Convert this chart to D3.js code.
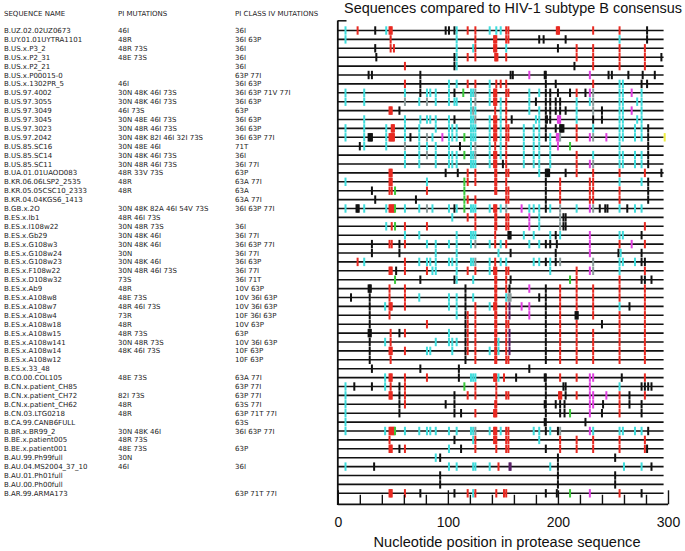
<!DOCTYPE html>
<html><head><meta charset="utf-8">
<script src="https://cdn.jsdelivr.net/npm/d3@7"></script>
<style>
html,body{margin:0;padding:0;background:#fff;}
svg{display:block;}
</style></head>
<body>
<script>
const names = ["B.UZ.02.02UZ0673","B.UY.01.01UYTRA1101","B.US.x.P3_2","B.US.x.P2_31","B.US.x.P2_21","B.US.x.P00015-0","B.US.x.1302PR_5","B.US.97.4002","B.US.97.3055","B.US.97.3049","B.US.97.3045","B.US.97.3023","B.US.97.2042","B.US.85.SC16","B.US.85.SC14","B.US.85.SC11","B.UA.01.01UAOD083","B.KR.06.06LSP2_2535","B.KR.05.05CSC10_2333","B.KR.04.04KGS6_1413","B.GB.x.2O","B.ES.x.Ib1","B.ES.x.I108w22","B.ES.x.Gb29","B.ES.x.G108w3","B.ES.x.G108w24","B.ES.x.G108w23","B.ES.x.F108w22","B.ES.x.D108w32","B.ES.x.Ab9","B.ES.x.A108w8","B.ES.x.A108w7","B.ES.x.A108w4","B.ES.x.A108w18","B.ES.x.A108w15","B.ES.x.A108w141","B.ES.x.A108w14","B.ES.x.A108w12","B.ES.x.33_48","B.CO.00.COL105","B.CN.x.patient_CH85","B.CN.x.patient_CH72","B.CN.x.patient_CH62","B.CN.03.LTG0218","B.CA.99.CANB6FULL","B.BR.x.BR99_2","B.BE.x.patient005","B.BE.x.patient001","B.AU.99.Ph99full","B.AU.04.MS2004_37_10","B.AU.01.Ph01full","B.AU.00.Ph00full","B.AR.99.ARMA173"];

const piMutations = ["46I","48R","48R 73S","48E 73S","","","46I","30N 48K 46I 73S","30N 48K 46I 73S","46I 73S","30N 48E 46I 73S","30N 48R 46I 73S","30N 48K 82I 46I 32I 73S","30N 48E 46I","30N 48K 46I 73S","30N 48R 46I 73S","48R 33V 73S","48R","48R","","30N 48K 82A 46I 54V 73S","48R 46I 73S","30N 48R 73S","30N 48K 46I","30N 48K 46I","30N","30N 48K 46I","30N 48R 46I 73S","73S","48R","48E 73S","48R 46I 73S","73R","48R","48R 73S","30N 48R 73S","48K 46I 73S","","","48E 73S","","82I 73S","48R","48R","","30N 48K 46I","48R 73S","48E 73S","30N","46I","","",""];

const classIVMutations = ["36I","36I 63P","36I","36I","36I","63P 77I","36I 63P","36I 63P 71V 77I","36I 63P","63P","36I 63P","36I 63P","36I 63P 77I","71T","36I","36I 77I","63P","63A 77I","63A","63A 77I","36I 63P 77I","","36I","36I 77I","36I 63P 77I","36I 77I","36I 63P","36I 77I","36I 71T","10V 63P","10V 36I 63P","10V 36I 63P","10F 36I 63P","10V 63P","63P","10V 36I 63P","10F 63P","10F 63P","","63A 77I","63P 77I","63P 77I","63S 77I","63P 71T 77I","63S","36I 63P 77I","","63P","","36I","","","63P 71T 77I"];

// nucleotide positions of differences from consensus, prefixed by colour code
// c=cyan r=red k=black m=magenta g=green s=grey p=purple y=yellow ; a-b = adjacent run
const rowMarks = [
"c7 r18 k34 c44 r47-49 k98 k101 k106 c108 r118 r125 c138 c144 c148 r153 r155 r199-201 r232 r256 k281",
"c7 r48 c108 r125 r142-144 r153 r155 k183 k187 k207 c256 k281",
"k34 r48 r51 c108 c123 r125 r142-144 c153 k200 r217 r232 r256 r279",
"k35 k106 c108 r118 r125 r143-145 r153 r217 r232 r256 r279 k294",
"r61 k106 c108 k215 r232 r256 r279",
"k28 k31 k75 k157 k159 m174 k188-189 m229 k246 k249 k264 k277 k288",
"r61 k75 c101 c108 r118 r125 c138 r144 r148 r153 k189 k198 r232 c256 c259 k276 k281",
"c7 c24 c61 k75 c81 c84 c89 c101 k106 g114 c121 c123 s125 c138 r142-144 r153 r155 c174 c183 k189 k193 k200 k211 r217 k225 m229 s232 c256 c259 m267 c276",
"c7 c24 s61 c74 s81 c89 c101 c106 c108 c121 s125 c138 r142-144 c148 r153 c174 k180 k189 k193 k198 k202 c217 c229 s232 c256 c259 c272 c276",
"r47-49 k56 c121 s123 c125 r143 c148 r153 c174 c183 k189 k193 k198 k202 k207 c217 s232 k240 c256 c259 m267 c276",
"c24 c61 c75 c81 c84 c89 c101 k106 c121 c123 s125 c138 r142-144 c148 r153 k158 c180 c183 k189 k190 k193 m200-202 c217 k232 k240 c256 c259 c272 c276",
"c7 c24 c44 r49-51 c61 c74 c89 c101 c104 c108 c121 c123 c125 c138 r142-144 c148 r153 r155 c169 c178 c183 k189 k198 k202-205 r217 c232 c256 c259 c270 c276 k282",
"c7 c24 k28-31 c44 r47-51 c61 k66 c74 s81 c86 m95 c101 c104 c108 g115 c121 c123 c125 c138 r142-144 c148 r153 r155 c169 c178 c183 k189 c193 m199-201 s202 r217 m229 s232 m244 c256 c259 c270 c276 k282 y297",
"k20 c24 c44 s61 c74 c81 c89 c101 k111 c121 s125 c138 r143 c148 r153 c169 c178 c183 c193 m200 g211 c256 k282",
"c61 c74 s81 c89 c101 c104 c108 g115 c121 c123 s125 c138 r142-144 c148 r153 c169 c178 c183 c193 r217 c232 c256 c259 c270 c276 k282",
"c61 c74 c89 c101 c104 c108 c121 c123 c125 c138 r142-144 k150 r153 c169 c178 c183 c193 r217 m229 s232 c256 c259 c270 c276 k282",
"r47-49 k98 k109 r118 r125 r143 r144 r153 r155 c183 k189-192 k207 r217 r232 r256 r279 k294",
"c7 r47-49 c81 g115 r118 r125 r143 r144 r153 k189 r202 r229 r232 c256 c276 k282",
"k31 r47 r49 g52 r81 g115 r143 r144 r153 r155 k189 r202 r229 r232 r256 k282",
"k34 k71 g115 r118 r125 r153 r155 k189 r202 r229 r232 r256 k282",
"c7 k17-19 c24 c44 r47-51 g52 c61 c74 s81 c86 c101 k106 c108 g115 c121 c123 c125 c138 r142-144 c148 s153 m167 c174 c178 c183 k189 c193 s202 c217 m229 s232 k238 k243 k245 c256 k263 c270 c276",
"c104 r118 r125 r143 r144 r153 r155 m174 c183 s202 k205 k207",
"c44 r49 g52 r61 r81 r125 r143 r144 r153 r155 m174 c183 s202 k205 k207 r279",
"c61 c74 c108 c121 c123 c125 r143 k155-157 c169 c178 c193 k198 c202 m229 c256 c259 k276",
"k31 r47 r49 k56 r61 c81 c89 c101 c108 c121 s125 c138 r143 c148 r153 c174 c183 k189 k193 k199 m229 r256 m267 r279",
"k31 k56 c89 c108 c146 k157 k198 m229 k255 c257 k276",
"r18 c24 r61 c74 c81 c84 c89 c101 c104 c108 c121 c123 s125 c138 r143 c148 c153 c178 c183 k189 c193 k198 s202 s232 c256 c259 c270 k276 k279",
"r47-49 k53 r61 r81 c86 c89 c108 r118 r125 c138 r142-144 r153 r155 c193 r217 m229 s232 c256 r279",
"g52 k75 k106 c108 c123 r143 r144 r153 k157 g211 r217 r256 k276 k279 k285",
"k28-30 r47 r61 k116 r143 r144 r153 k156 m174 k189 r202 r217 r232 r256 r279",
"k12 k29 r47 r61 c74 c101 c108 k116 c123 r143 r144 c153 s155-157 k183 k189 r202 r217 r232 r256 r279",
"k29 c43 r47-49 r61 c101 c108 k116 r125 c138 r142-144 r153 p156 m167 m174 k189 r202 r217 r232 c256 k265 r279",
"k29 r47 c108 k116 r118 r125 r143 r144 r153 p156 m174 k189 r202 k216-218 r232 r256 r279",
"k29 r81 k116 r118 r125 r143 r144 r153 r155 k189 r202 r217 k240 r256 r279",
"k28-30 r48 k56 r61 c101 k116 r118 r125 r143 r144 r153 p156 k189 r202 r217 r232 r256 r279",
"k29 c43 r48 c89 c101 c104 c108 k116 r118 r125 r143 r144 c146 r153 p156 k189 r202 r217 r232 r256 r279",
"k29 r47-49 r61 c81 c84 c104 k116 r118 r125 c138 r143 r144 c146 r153 p156 k189 r202 r217 r232 r256 r279",
"k29 r48 k116 r125 r143 r144 r153 r155 k189 r202 r217 r232 r256 r279",
"k31 k75 k110 k174",
"c43 r47-49 r61 r81 k110 c121 c123 c125 r142-144 c146 r151 k162 k188-189 r202 r217 m229 m232 k258 r279",
"c7 k15 k31 c43 r48 k56 r61 g115 r125 r144 k189 k205 k207 m229 c256 k276 k279 k282 k285",
"c7 r47-49 k56 r61 k106 r118 r125 r144 r153 r155 k189 r201-203 k207 r217 m229 m232 m244 r256 k265 r279",
"c7 k56 r61 k98 k106 r143 r144 k188-189 k198 k202 k206 m229 m232 k241 r256 k265 k276",
"c7 k56 k106 k112 r125 r142-144 k189 k202 k206 g211 m229 k240 r256 k276",
"c7 k188-189 k225",
"c7 c43 r47-51 g52 c61 c74 c81 c84 c89 c101 c108 c121 c123 s125 c138 r142-144 c148 r153 r155 c178 c183 k189 c193 k200 s202 m229 c232 c256 c259 c270 c276 k282",
"r47 k106 c123 r125 r142-144 r153 r155 c183 r202 r217 r232 r256 r279",
"r47-49 k56 r61 c101 k112 r125 r144 r153 r155 k189 r202 r217 r232 r256 r279 k281",
"c89 k93 k200 k252",
"c7 k33 c101 c108 c123 c125 c138 r146 p156-157 c193 k200 c260 c276 k285",
"k93 k200 k252",
"k93 k200 k252",
"r47-49 r61 k75 k106 r118 c123 r125 r144 r151 r153 k189 k199 g211 m229 r256 k276"
];

const xTickValues = [0,20,40,60,80,100,120,140,160,180,200,220,240,260,280,300];
const xTickLabels = [0,100,200,300];
const seqLength = 296;
const chartTitle = "Sequences compared to HIV-1 subtype B consensus";
const xTitle = "Nucleotide position in protease sequence";
const headers = ["SEQUENCE NAME","PI MUTATIONS","PI CLASS IV MUTATIONS"];

const colorMap = {c:"#3fdcdc", r:"#e82a22", k:"#111111", m:"#e040e0", g:"#3cc83c", s:"#8c9c9c", p:"#5a2068", y:"#f0f040"};

const W = 685, H = 551;
const svg = d3.select("body").append("svg").attr("width", W).attr("height", H);

const x = d3.scaleLinear().domain([0, 300]).range([337.8, 668]);
const y = d3.scalePoint().domain(names).range([30.5, 30.5 + 8.9 * 52]);

// left table
const textFont = "DejaVu Sans, Verdana, sans-serif";
const colX = [4, 118, 235];
svg.append("g").selectAll("text").data(headers).join("text")
  .attr("x", (d,i) => colX[i]).attr("y", 16)
  .attr("font-family", textFont).attr("font-size", 7).attr("fill", "#222")
  .text(d => d);

const tbl = svg.append("g").attr("font-family", textFont).attr("font-size", 7).attr("fill", "#222");
names.forEach((n, i) => {
  const yy = y(n) + 2.5;
  tbl.append("text").attr("x", colX[0]).attr("y", yy).text(n);
  tbl.append("text").attr("x", colX[1]).attr("y", yy).text(piMutations[i]);
  tbl.append("text").attr("x", colX[2]).attr("y", yy).text(classIVMutations[i]);
});

// title
svg.append("text").attr("x", 513).attr("y", 13).attr("text-anchor", "middle")
  .attr("font-family", "Liberation Sans, Arial, sans-serif").attr("font-size", 14.5)
  .attr("textLength", 338).attr("lengthAdjust", "spacingAndGlyphs")
  .attr("fill", "#111").text(chartTitle);

// row lines
svg.append("g").selectAll("line").data(names).join("line")
  .attr("x1", x(0)).attr("x2", x(seqLength))
  .attr("y1", d => y(d)).attr("y2", d => y(d))
  .attr("stroke", "#111").attr("stroke-width", 1.6);

// marks
const markData = [];
rowMarks.forEach((s, i) => {
  s.split(" ").filter(t => t.length).forEach(t => {
    const col = colorMap[t[0]];
    const rest = t.slice(1);
    let a, b;
    if (rest.includes("-")) { [a, b] = rest.split("-").map(Number); } else { a = b = +rest; }
    for (let p = a; p <= b; p++) markData.push({row: names[i], pos: p, color: col});
  });
});
svg.append("g").selectAll("rect").data(markData).join("rect")
  .attr("x", d => x(d.pos) - 1).attr("width", 2)
  .attr("y", d => y(d.row) - 4.2).attr("height", 8.4)
  .attr("fill", d => d.color);

// left spine
svg.append("line").attr("x1", x(0)).attr("x2", x(0)).attr("y1", 20.5).attr("y2", 505)
  .attr("stroke", "#111").attr("stroke-width", 1.8);
svg.append("line").attr("x1", x(0)).attr("x2", 346.5).attr("y1", 20.8).attr("y2", 20.8)
  .attr("stroke", "#111").attr("stroke-width", 1.5);

// bottom axis with inward ticks
const axisG = svg.append("g").attr("transform", "translate(0,504.3)");
const xAxis = d3.axisTop(x).tickValues(xTickValues).tickSize(9).tickFormat("");
axisG.call(xAxis);
axisG.select(".domain").attr("stroke", "#111").attr("stroke-width", 1.8).attr("d", `M${x(0)},0H${x(300)}`);
axisG.selectAll(".tick line").attr("stroke", "#111").attr("stroke-width", 1.4)
  .attr("y2", d => (d % 100 === 0 ? -14 : -9.5));

svg.append("g").selectAll("text").data(xTickLabels).join("text")
  .attr("x", d => x(d) + 0.5).attr("y", 527).attr("text-anchor", "middle")
  .attr("font-family", "Liberation Sans, Arial, sans-serif").attr("font-size", 14)
  .attr("fill", "#111").text(d => d);

svg.append("text").attr("x", 507).attr("y", 547).attr("text-anchor", "middle")
  .attr("font-family", "Liberation Sans, Arial, sans-serif").attr("font-size", 14)
  .attr("textLength", 267).attr("lengthAdjust", "spacingAndGlyphs")
  .attr("fill", "#111").text(xTitle);
</script>
</body></html>
